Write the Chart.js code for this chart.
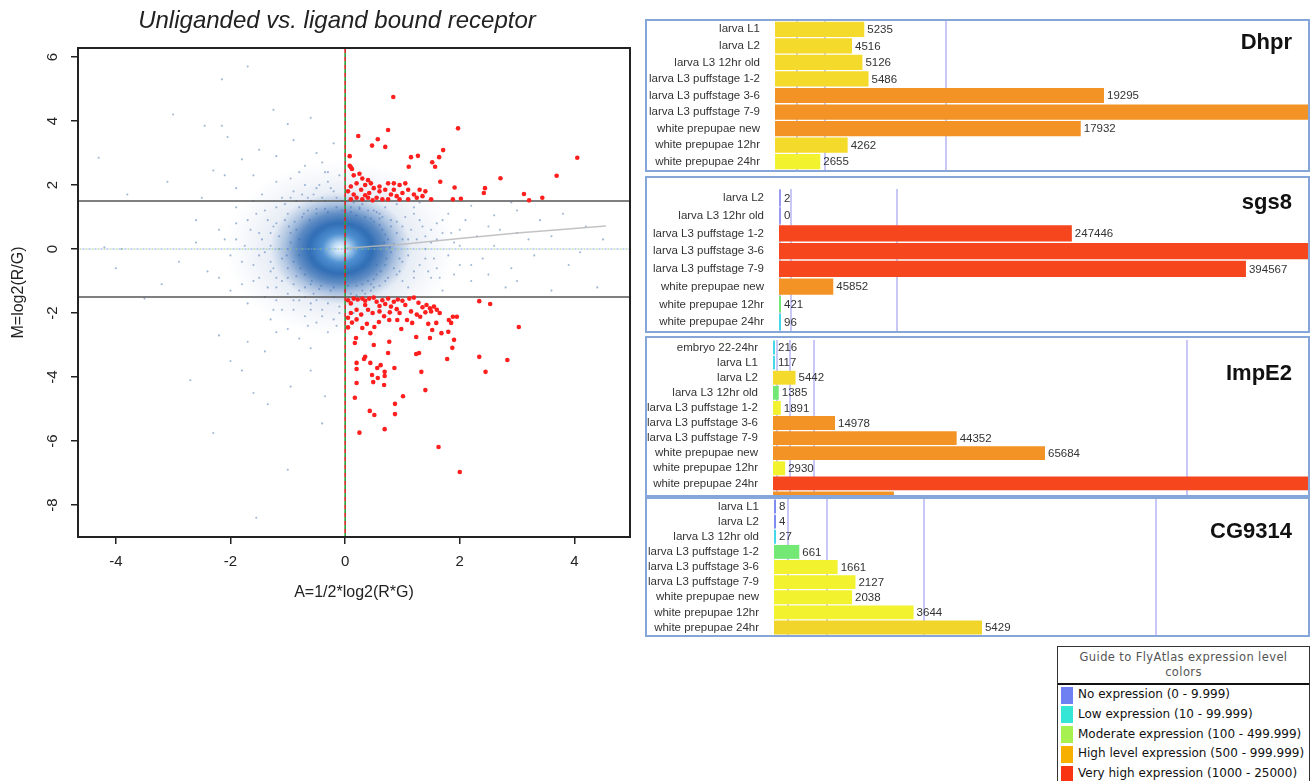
<!DOCTYPE html>
<html>
<head>
<meta charset="utf-8">
<script src="https://cdn.jsdelivr.net/npm/chart.js@4"></script>
<style>
  body { margin: 0; background: #fff; width: 1315px; height: 781px; overflow: hidden; position: relative; font-family: "Liberation Sans", Arial, sans-serif; }
  #maBox { position: absolute; left: 0; top: 0; width: 674px; height: 620px; }
  #maTitle { position: absolute; left: 0; top: 6px; width: 674px; text-align: center; font: italic 24px "Liberation Sans", Arial, sans-serif; line-height: 28px; color: #222; }
  .panel { position: absolute; left: 645px; width: 665px; border: 2px solid #86a6da; box-sizing: border-box; overflow: hidden; background: #fff; }
  .panel canvas { position: absolute; left: 0; top: 0; }
  .gene { position: absolute; right: 16px; font: bold 22px "Liberation Sans", Arial, sans-serif; line-height: 26px; color: #111; }
  #guide { position: absolute; left: 1057px; top: 646px; width: 253px; height: 150px; border: 1px solid #333; box-sizing: border-box; font-family: "DejaVu Sans", Verdana, sans-serif; font-size: 12px; }
  #guide .head { height: 38px; border-bottom: 2px solid #111; text-align: center; color: #555; line-height: 15px; padding-top: 3px; box-sizing: border-box; letter-spacing: 0.4px; font-size: 11.5px; }
  #guide .item { height: 19.8px; line-height: 19.8px; position: relative; padding-left: 20px; color: #111; white-space: nowrap; }
  #guide .sw { position: absolute; left: 3px; top: 1.5px; width: 12px; height: 17px; }
</style>
</head>
<body>
<div id="maBox"><canvas id="ma" width="674" height="620"></canvas></div>
<div id="maTitle">Unliganded vs. ligand bound receptor</div>

<div class="panel" style="top:19px;height:153px;"><canvas id="pDhpr" width="661" height="149"></canvas><div class="gene" style="top:8px;">Dhpr</div></div>
<div class="panel" style="top:176px;height:157px;"><canvas id="pSgs8" width="661" height="153"></canvas><div class="gene" style="top:11px;">sgs8</div></div>
<div class="panel" style="top:336px;height:161px;"><canvas id="pImpE2" width="661" height="168"></canvas><div class="gene" style="top:22px;">ImpE2</div></div>
<div class="panel" style="top:497px;height:140px;"><canvas id="pCG9314" width="661" height="136"></canvas><div class="gene" style="top:19px;">CG9314</div></div>

<div id="guide">
  <div class="head">Guide to FlyAtlas expression level<br>colors</div>
  <div id="guideItems"></div>
</div>

<script>
// ---- MA plot data ----
const xTicks = [-4, -2, 0, 2, 4];
const yTicks = [-8, -6, -4, -2, 0, 2, 4, 6];
const cutoffs = [1.5, -1.5];

// sparse blue points around the dense centre
const bluePts = [
  -4.3,2.85, -3.0,4.2, -1.7,5.7, -2.15,5.3, -2.45,3.85, -2.15,3.85, -2.05,3.5, -3.1,2.1, -2.3,2.45, -1.25,4.35,
  -3.9,0.0, -4.2,0.05, -3.5,-1.55, -2.7,-4.1, -2.3,-5.75, -1.55,-8.4, -1.0,-6.9, -0.4,-5.45, -1.35,-4.85, -3.8,1.7,
  -4.0,-0.6, -3.2,-1.1, -2.6,0.9, -2.9,-0.4, -2.2,-2.7, -2.0,-3.5, -1.8,-3.8, -1.6,-4.5, -0.95,-4.3, -0.6,-3.8,
  -0.35,-4.6, -1.7,-2.9, -1.4,-3.2, -1.2,-2.6, -2.5,1.6, -2.1,2.3, -1.9,1.9, -1.8,2.8, -1.5,3.1, -1.2,2.9,
  -0.9,3.4, -0.7,2.6, -0.5,3.0, -0.3,2.4, -0.2,3.3, -0.6,4.1, -1.0,3.9,
  0.5,1.2, 1.2,1.3, 1.8,1.1, 2.2,1.35, 2.6,1.05, 3.0,1.2, 3.4,0.9, 3.8,1.1, 4.2,0.7, 4.5,0.3,
  3.6,0.4, 3.0,0.5, 2.5,0.7, 2.0,0.6, 1.6,0.8, 2.4,-0.3, 2.9,-0.6, 3.3,-0.2, 3.9,-0.5, 4.4,-1.2,
  3.6,-1.3, 2.8,-1.2, 2.2,-1.0, 1.7,-1.3, 2.0,-0.5, 1.5,-0.9, 1.9,0.2, 2.6,0.1, 3.2,0.3, 1.4,0.4,
  1.1,-1.2, 1.3,1.45, 0.9,1.4, 2.9,1.45, 4.1,-0.1, 3.0,-1.0,
  -1.9,0.3, -1.8,-0.4, -1.7,0.9, -1.6,-1.0, -1.5,0.5, -1.5,-0.2, -1.4,1.2, -1.4,-1.5, -1.3,0.1, -1.3,-0.7,
  -1.2,0.8, -1.2,-1.2, -1.1,1.6, -1.1,-1.9, -1.0,1.1, -1.0,-0.9, -0.9,1.8, -0.9,-1.6, -0.8,1.3, -0.8,-1.3,
  -0.7,2.0, -0.7,-2.1, -0.6,1.5, -0.6,-1.7, -0.5,1.9, -0.5,-2.3, -0.4,1.6, -0.4,-1.9, -0.3,2.1, -0.3,-2.6,
  -0.2,1.8, -0.2,-2.2, -0.1,2.3, -0.1,-1.8, 0.1,1.3, 0.1,-1.4, 0.3,1.4, 0.3,-1.3, 0.5,-1.2, 0.6,1.1,
  0.7,-1.0, 0.8,0.9, 0.9,-0.8, 1.0,0.7, 1.0,-0.4, 1.1,0.3, 1.2,-0.7, 1.3,0.9, 1.4,-0.3, 1.5,0.2,
  1.6,-0.6, 1.7,0.5, -2.0,-1.3, -2.2,0.6, -2.4,-0.7, -2.6,0.2, -1.9,1.3, -1.7,-1.7, -1.3,-2.2, -1.0,-2.5,
  -0.8,-2.8, -0.6,-3.1, -1.6,2.3, -1.2,2.1, -0.8,2.4, -0.4,2.7,
  -1.15,0.4, -1.1,-0.3, -1.05,0.9, -1.0,-0.6, -0.95,0.2, -0.9,-1.1, -0.85,0.6, -0.8,-0.2, -0.75,1.0, -0.7,-0.8,
  -0.65,1.2, -0.6,-1.1, -0.5,1.1, -0.45,-1.25, -0.35,1.25, -0.25,-1.3, -0.15,1.3, 0.0,-1.3, 0.1,1.15, 0.2,-1.15,
  0.35,1.0, 0.4,-1.0, 0.5,0.85, 0.55,-0.8, 0.65,0.6, 0.7,-0.5, 0.75,0.3, 0.8,-0.1, 0.85,0.15, 0.9,0.5,
  0.95,-0.3, 0.6,0.95, -1.2,-0.9, -1.25,0.7, -1.3,-0.4, -0.55,-1.4, 0.25,1.25, 0.45,-1.3,
  -1.75,0.1, -1.65,0.6, -1.6,-0.5, -1.55,1.1, -1.5,-0.9, -1.45,0.3, -1.4,-0.1, -1.35,0.9, -1.35,-1.2, -1.3,0.5,
  -1.25,-0.6, -1.2,1.3, -1.2,-1.6, -1.15,0.0, -1.1,-1.0, -1.05,1.4, -1.0,-1.4, -0.95,1.6, -0.9,-1.9, -0.85,1.5,
  -0.8,-1.6, -0.75,1.7, -0.7,-1.5, -0.65,1.6, -0.6,-1.9, -0.55,1.7, -0.5,-1.6, -0.45,2.0, -0.4,-2.1, -0.35,1.5,
  -0.3,-1.7, -0.25,1.9, -0.2,-1.5, -0.15,1.6, -0.1,-2.0, -0.05,1.5, 0.05,-1.6, 0.15,1.45, 0.2,-1.45, 0.25,1.3,
  0.35,-1.4, 0.4,1.2, 0.45,-1.1, 0.55,1.15, 0.6,-1.15, 0.65,1.0, 0.75,-0.9, 0.8,0.7, 0.85,-0.6, 0.9,0.85,
  0.95,-0.7, 1.0,0.3, 1.0,-1.0, 1.05,1.0, 1.1,-0.2, 1.15,0.6, 1.2,-0.9, 1.25,0.3, 1.3,-0.5, 1.35,0.7,
  1.4,0.0, 1.45,-0.7, 1.5,0.6, 1.55,-0.3, 1.6,0.3, 1.65,-0.9, 1.7,0.9, 1.8,-0.2, 1.85,0.5, 1.9,-0.8,
  2.0,0.1, 2.1,0.9, 2.2,-0.5, 2.3,0.4, 2.5,-0.8, 2.7,0.6, 1.2,1.1, 0.7,1.3, -1.6,1.5, -1.8,-1.1,
  -1.9,0.8, -2.0,-0.2, -2.1,0.3, -2.2,-0.9, -1.45,1.7, -1.25,-1.9, -0.95,2.2, -0.65,-2.4, -0.35,2.4, -0.15,-2.4,
  0.1,2.0, 0.15,-2.0,
  -0.95,0.5, -0.9,-0.4, -0.88,0.85, -0.85,-0.85, -0.8,0.3, -0.78,-0.6, -0.72,1.1, -0.7,-1.2, -0.62,0.9, -0.58,-1.0,
  -0.5,1.25, -0.42,-1.15, -0.3,1.15, -0.2,-1.2, -0.05,1.2, 0.05,-1.15, 0.2,1.05, 0.3,-1.1, 0.45,0.95, 0.5,-0.95,
  0.6,0.75, 0.62,-0.7, 0.7,0.45, 0.72,-0.3, 0.78,0.05, 0.68,0.2, 0.55,-0.5, -1.0,0.0, -1.02,-0.2, -0.98,0.7
];
// centre of the dense cloud
const coreX = [-0.08];
const coreY = [0.02];

// significant genes (red)
const redPts = [
  0.84,4.75, 0.23,3.53, 0.75,3.72, 0.57,3.43, 0.47,3.23, 0.70,3.19, 1.97,3.77, 1.71,3.09, 1.27,2.91, 1.15,2.87,
  1.64,2.87, 1.52,2.71, 1.57,2.57, 1.11,2.57, 4.05,2.85, 3.69,2.29, 2.71,2.21, 1.66,2.10, 1.91,1.92, 2.44,1.90,
  2.42,1.75, 3.12,1.72, 3.21,1.52, 3.44,1.60, 1.88,1.55, 2.02,1.57, 0.08,2.9, 0.08,2.6, 0.1,2.55, 0.12,2.5,
  0.15,2.3, 0.25,2.35, 0.3,2.2, 0.4,2.15, 0.45,2.05, 0.2,2.05, 0.35,2.0, 0.1,1.95, 0.5,1.9, 0.28,1.85,
  0.42,1.75, 0.15,1.7, 0.6,1.8, 0.75,2.05, 0.85,2.05, 0.95,2.0, 1.05,2.05, 0.7,1.85, 0.8,1.7, 0.9,1.65,
  1.0,1.75, 1.1,1.85, 1.2,1.7, 1.25,1.6, 1.35,1.65, 1.4,1.8, 1.5,1.55, 0.55,1.6, 0.65,1.55, 0.3,1.55,
  0.1,1.55, 0.2,1.6, 0.4,1.6, 0.75,1.55, 0.95,1.55, 1.1,1.55, 0.05,1.8, 0.6,1.95, 0.35,1.68, 0.48,1.52,
  0.85,1.85, 1.3,1.85,
  2.0,-6.97, 1.63,-6.19, 0.25,-5.74, 0.69,-5.63, 0.43,-5.06, 0.51,-5.19, 0.87,-4.84, 0.87,-5.16, 1.01,-4.6, 0.17,-4.65,
  1.4,-4.41, 0.2,-4.19, 0.49,-4.16, 0.68,-4.25, 0.47,-3.94, 0.57,-4.03, 0.69,-3.97, 0.56,-3.72, 0.69,-3.84, 0.62,-3.63,
  0.2,-3.75, 0.2,-3.56, 0.86,-3.72, 1.33,-3.84, 2.45,-3.84, 2.34,-3.37, 2.83,-3.47, 0.35,-3.37, 0.33,-3.44, 0.44,-3.56,
  0.75,-3.25, 1.24,-3.28, 1.29,-3.25, 1.78,-3.44, 1.87,-3.09, 0.5,-3.0, 0.19,-2.78, 0.17,-2.94, 0.77,-2.9, 1.24,-2.75,
  1.48,-2.78, 1.9,-2.84, 1.68,-2.63, 1.8,-2.59, 3.03,-2.44, 0.44,-2.63, 0.51,-2.44, 0.38,-2.34, 0.3,-2.47, 0.59,-2.28,
  0.77,-2.22, 0.91,-2.22, 0.98,-2.5, 1.08,-2.22, 1.17,-2.31, 1.31,-2.12, 1.45,-2.34, 1.59,-2.31, 1.52,-2.53, 1.85,-2.31,
  1.88,-2.12, 1.95,-2.12, 1.81,-2.22, 2.34,-1.63, 2.53,-1.72,
  0.05,-1.6, 0.1,-1.7, 0.15,-1.55, 0.22,-1.58, 0.3,-1.55, 0.35,-1.62, 0.42,-1.55, 0.5,-1.52, 0.55,-1.65, 0.65,-1.6,
  0.7,-1.72, 0.75,-1.55, 0.8,-1.8, 0.85,-1.65, 0.92,-1.58, 1.0,-1.62, 1.05,-1.75, 1.12,-1.55, 1.2,-1.52, 1.28,-1.68,
  1.35,-1.82, 1.42,-1.75, 1.48,-1.85, 1.55,-1.8, 1.6,-1.9, 0.1,-2.0, 0.2,-1.9, 0.28,-2.05, 0.4,-1.9, 0.48,-2.0,
  0.6,-1.95, 0.68,-2.1, 0.78,-1.98, 0.9,-1.88, 1.15,-1.95, 1.25,-2.05, 1.4,-1.98, 0.05,-2.15, 0.12,-2.3, 0.2,-2.2,
  0.05,-2.45, 1.5,-1.95, 1.65,-2.0, 0.95,-2.0, 0.35,-1.75, 0.6,-1.78
];

// loess trend (grey)
const trendX = [0.0, 1.0, 2.0, 3.0, 4.0, 4.55];
const trendY = [0.02, 0.15, 0.33, 0.5, 0.64, 0.72];

// ---- FlyAtlas bar data ----
const dhprLabels = ['larva L1', 'larva L2', 'larva L3 12hr old', 'larva L3 puffstage 1-2', 'larva L3 puffstage 3-6',
  'larva L3 puffstage 7-9', 'white prepupae new', 'white prepupae 12hr', 'white prepupae 24hr'];
const dhprValues = [5235, 4516, 5126, 5486, 19295, 32000, 17932, 4262, 2655];
const dhprColors = ['#f4da2a', '#f4da2a', '#f4da2a', '#f4da2a', '#f39325', '#f39325', '#f39325', '#f4da2a', '#f2f22e'];
const dhprMarks = [1300, 2950, 10000];

const sgs8Labels = ['larva L2', 'larva L3 12hr old', 'larva L3 puffstage 1-2', 'larva L3 puffstage 3-6',
  'larva L3 puffstage 7-9', 'white prepupae new', 'white prepupae 12hr', 'white prepupae 24hr'];
const sgs8Values = [2, 0, 247446, 460000, 394567, 45852, 421, 96];
const sgs8Colors = ['#9a9af2', '#9a9af2', '#f5461e', '#f5461e', '#f5461e', '#f39325', '#74e874', '#44d8e8'];
const sgs8Marks = [1000, 10000, 100000];

const impe2Labels = ['embryo 22-24hr', 'larva L1', 'larva L2', 'larva L3 12hr old', 'larva L3 puffstage 1-2',
  'larva L3 puffstage 3-6', 'larva L3 puffstage 7-9', 'white prepupae new', 'white prepupae 12hr', 'white prepupae 24hr', ''];
const impe2Values = [216, 117, 5442, 1385, 1891, 14978, 44352, 65684, 2930, 140000, 29200];
const impe2Colors = ['#44d8e8', '#44d8e8', '#f4da2a', '#74e874', '#f2f22e', '#f39325', '#f39325', '#f39325', '#f2f22e', '#f5461e', '#f39325'];
const impe2Marks = [1000, 4000, 10000, 100000];

const cgLabels = ['larva L1', 'larva L2', 'larva L3 12hr old', 'larva L3 puffstage 1-2', 'larva L3 puffstage 3-6',
  'larva L3 puffstage 7-9', 'white prepupae new', 'white prepupae 12hr', 'white prepupae 24hr'];
const cgValues = [8, 4, 27, 661, 1661, 2127, 2038, 3644, 5429];
const cgColors = ['#7f8cf0', '#7f8cf0', '#44d8e8', '#74e874', '#f2f22e', '#f2f22e', '#f2f22e', '#f2f22e', '#f2d52a'];
const cgMarks = [370, 1390, 3920, 9970];

const guideLabels = ['No expression (0 - 9.999)', 'Low expression (10 - 99.999)', 'Moderate expression (100 - 499.999)',
  'High level expression (500 - 999.999)', 'Very high expression (1000 - 25000)'];
const guideColors = ['#6f80f2', '#35e6d6', '#a6f050', '#f8b000', '#f83412'];

Chart.defaults.font.family = '"Liberation Sans", Arial, sans-serif';
Chart.defaults.animation = false;

function toPoints(flat) {
  const out = [];
  for (let i = 0; i < flat.length; i += 2) out.push({ x: flat[i], y: flat[i + 1] });
  return out;
}

// soft elliptical blob used as a point style (dense centre and its haze)
function makeBlob(w, h, stops) {
  const c = document.createElement('canvas');
  c.width = w; c.height = h;
  const g = c.getContext('2d');
  g.translate(w / 2, h / 2);
  g.scale(1, h / w);
  const grad = g.createRadialGradient(0, 0, 0, 0, 0, w / 2);
  stops.forEach(s => grad.addColorStop(s[0], s[1]));
  g.fillStyle = grad;
  g.beginPath();
  g.arc(0, 0, w / 2, 0, Math.PI * 2);
  g.fill();
  return c;
}

const coreImg = makeBlob(140, 112, [
  [0, 'rgba(240,247,255,1)'], [0.1, 'rgba(190,220,245,1)'], [0.26, 'rgba(80,145,210,1)'],
  [0.45, 'rgba(40,104,178,0.95)'], [0.62, 'rgba(45,105,178,0.7)'], [0.8, 'rgba(60,115,185,0.3)'], [1, 'rgba(70,125,190,0)']
]);
const hazeImg = makeBlob(230, 176, [
  [0, 'rgba(80,125,190,0.35)'], [0.5, 'rgba(90,130,190,0.2)'], [0.8, 'rgba(110,145,195,0.08)'], [1, 'rgba(120,150,200,0)']
]);

const boxPlugin = {
  id: 'rbox',
  afterDraw(chart) {
    const { ctx, chartArea: a, scales } = chart;
    ctx.save();
    ctx.strokeStyle = '#222';
    ctx.lineWidth = 2;
    ctx.strokeRect(a.left, a.top, a.right - a.left, a.bottom - a.top);
    // rotated y tick labels, R style
    ctx.fillStyle = '#222';
    ctx.font = '15px "Liberation Sans", Arial, sans-serif';
    ctx.textAlign = 'center';
    ctx.textBaseline = 'middle';
    yTicks.forEach(v => {
      const py = scales.y.getPixelForValue(v);
      ctx.save();
      ctx.translate(a.left - 25, py);
      ctx.rotate(-Math.PI / 2);
      ctx.fillText(String(v), 0, 0);
      ctx.restore();
    });
    ctx.restore();
  }
};

const lineDs = (xs, ys, color, width, dash, offset) => ({
  type: 'line',
  data: xs.map((x, i) => ({ x: x, y: ys[i] })),
  borderColor: color,
  borderWidth: width,
  borderDash: dash || [],
  borderDashOffset: offset || 0,
  pointRadius: 0,
  fill: false,
  tension: 0
});

const corePts = coreX.map((x, i) => ({ x: x, y: coreY[i] }));

// datasets listed front to back
new Chart(document.getElementById('ma'), {
  type: 'scatter',
  data: {
    datasets: [
      { data: toPoints(redPts), backgroundColor: '#ff1f1f', borderWidth: 0, pointRadius: 2.3 },
      lineDs([0, 0], [-10, 7], '#d42020', 1.6, [4, 4], 4),
      lineDs([0, 0], [-10, 7], '#2f9a3a', 1.6, [4, 4], 0),
      lineDs([-5, 5], [cutoffs[0], cutoffs[0]], '#555', 1.5),
      lineDs([-5, 5], [cutoffs[1], cutoffs[1]], '#555', 1.5),
      lineDs([-5, 5], [0, 0], 'rgba(110,150,235,0.85)', 1.2, [2, 4], 0),
      lineDs([-5, 5], [0, 0], 'rgba(150,200,120,0.85)', 1.2, [2, 4], 3),
      lineDs(trendX, trendY, 'rgba(185,185,185,0.85)', 1.5),
      { data: corePts, pointStyle: coreImg, pointRadius: 5, borderWidth: 0 },
      { data: toPoints(bluePts), backgroundColor: 'rgba(70,112,178,0.5)', borderWidth: 0, pointRadius: 1.05 },
      { data: corePts, pointStyle: hazeImg, pointRadius: 5, borderWidth: 0 }
    ]
  },
  options: {
    responsive: false,
    layout: { padding: { left: 0, right: 44, top: 48, bottom: 0 } },
    plugins: {
      legend: { display: false },
      tooltip: { enabled: false },
      title: { display: false }
    },
    scales: {
      x: {
        type: 'linear',
        min: -4.66, max: 4.97,
        afterBuildTicks: s => { s.ticks = xTicks.map(v => ({ value: v })); },
        afterFit: s => { s.height = 83; },
        ticks: { color: '#222', font: { size: 15 }, padding: 9, autoSkip: false },
        grid: { drawOnChartArea: false, drawTicks: true, tickLength: 7, color: '#222', lineWidth: 1.5 },
        border: { display: false },
        title: { display: true, text: 'A=1/2*log2(R*G)', color: '#222', font: { size: 16 }, padding: { top: 4, bottom: 18 } }
      },
      y: {
        type: 'linear',
        min: -9.0, max: 6.28,
        afterBuildTicks: s => { s.ticks = yTicks.map(v => ({ value: v })); },
        afterFit: s => { s.width = 78; },
        ticks: { display: false },
        grid: { drawOnChartArea: false, drawTicks: true, tickLength: 7, color: '#222', lineWidth: 1.5 },
        border: { display: false },
        title: { display: true, text: 'M=log2(R/G)', color: '#222', font: { size: 16 }, padding: { top: 9, bottom: 0 } }
      }
    }
  },
  plugins: [boxPlugin]
});

function makePanel(id, labels, values, colors, marks, max, padTop, axisWidth) {
  const valueText = {
    id: 'valueText',
    afterDraw(chart) {
      const { ctx } = chart;
      const meta = chart.getDatasetMeta(0);
      ctx.save();
      ctx.fillStyle = '#333';
      ctx.font = '11.5px "Liberation Sans", Arial, sans-serif';
      ctx.textBaseline = 'middle';
      ctx.textAlign = 'left';
      meta.data.forEach((bar, i) => {
        if (!labels[i] || values[i] > max) return;
        const x = Math.max(bar.x, bar.base + 2) + 3;
        ctx.fillText(String(values[i]), x, bar.y + 0.5);
      });
      ctx.restore();
    }
  };
  return new Chart(document.getElementById(id), {
    type: 'bar',
    data: {
      labels: labels,
      datasets: [{
        data: values,
        backgroundColor: colors,
        borderWidth: 0,
        minBarLength: 2,
        categoryPercentage: 1,
        barPercentage: 0.92
      }]
    },
    options: {
      indexAxis: 'y',
      responsive: false,
      layout: { padding: { top: padTop, left: 0, right: 0, bottom: 0 } },
      plugins: { legend: { display: false }, tooltip: { enabled: false } },
      scales: {
        x: {
          min: 0, max: max,
          z: 1,
          afterBuildTicks: s => { s.ticks = marks.map(v => ({ value: v })); },
          afterFit: s => { s.height = 0; s.paddingLeft = 0; s.paddingRight = 0; },
          ticks: { display: false },
          grid: { color: 'rgba(190,190,245,0.85)', lineWidth: 2, drawTicks: false },
          border: { display: false }
        },
        y: {
          afterFit: s => { s.width = axisWidth; s.paddingTop = 0; s.paddingBottom = 0; },
          ticks: { color: '#333', font: { size: 11.5 }, padding: 7, autoSkip: false },
          grid: { display: false },
          border: { display: false }
        }
      }
    },
    plugins: [valueText]
  });
}

makePanel('pDhpr', dhprLabels, dhprValues, dhprColors, dhprMarks, 31260, 0, 128);
makePanel('pSgs8', sgs8Labels, sgs8Values, sgs8Colors, sgs8Marks, 447000, 11, 132);
makePanel('pImpE2', impe2Labels, impe2Values, impe2Colors, impe2Marks, 129200, 2, 126);
makePanel('pCG9314', cgLabels, cgValues, cgColors, cgMarks, 13940, 0, 127);

// colour guide
const items = document.getElementById('guideItems');
guideLabels.forEach((t, i) => {
  const d = document.createElement('div');
  d.className = 'item';
  d.innerHTML = '<span class="sw" style="background:' + guideColors[i] + '"></span>' + t;
  items.appendChild(d);
});
</script>
</body>
</html>
